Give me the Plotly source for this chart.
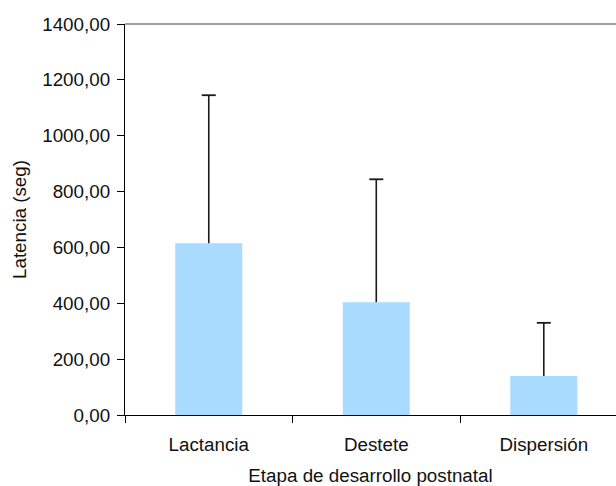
import plotly.graph_objects as go

# Latency per postnatal development stage (mean + upper SD)
etapas = ["Lactancia", "Destete", "Dispersión"]
latencia_media = [615, 404, 140]
latencia_sd = [530, 440, 190]

FONT = "Liberation Sans, Arial, sans-serif"
FS = 18.8
ERR_COLOR = "#1a1a1a"

fig = go.Figure()
fig.add_trace(go.Bar(
    x=etapas,
    y=latencia_media,
    width=0.4,
    marker=dict(color="#a9daff", line=dict(width=0)),
    hoverinfo="x+y",
))

# Upper error bar: vertical stem (no caps) ending in a single cap marker
tops = [m + s for m, s in zip(latencia_media, latencia_sd)]
fig.add_trace(go.Scatter(
    x=etapas,
    y=tops,
    mode="markers",
    marker=dict(symbol="line-ew", size=10,
                line=dict(color=ERR_COLOR, width=1.8)),
    error_y=dict(
        type="data",
        symmetric=False,
        array=[0, 0, 0],
        arrayminus=latencia_sd,
        color=ERR_COLOR,
        thickness=1.6,
        width=0,
    ),
    hoverinfo="skip",
))

fig.update_layout(
    width=616,
    height=486,
    margin=dict(l=125, r=0, t=24, b=71),
    paper_bgcolor="white",
    plot_bgcolor="white",
    separators=",.",
    showlegend=False,
    font=dict(family=FONT, size=FS, color="#111111"),
)

fig.update_xaxes(
    type="category",
    range=[-0.5, 2.431],
    tickson="boundaries",
    ticks="outside",
    ticklen=7,
    tickwidth=1,
    tickcolor="#000000",
    ticklabelstandoff=12,
    showline=True,
    linecolor="#000000",
    linewidth=1.2,
    showgrid=False,
    title=dict(text="Etapa de desarrollo postnatal", standoff=17,
               font=dict(family=FONT, size=FS)),
)

fig.update_yaxes(
    range=[0, 1400],
    dtick=200,
    tickformat=".2f",
    ticks="outside",
    ticklen=7,
    tickwidth=1,
    tickcolor="#000000",
    ticklabelstandoff=3,
    showline=True,
    linecolor="#000000",
    linewidth=1.2,
    showgrid=False,
    zeroline=False,
    title=dict(text="Latencia (seg)", standoff=10,
               font=dict(family=FONT, size=FS)),
)

# Gray top border of the plot area
fig.add_shape(type="line", xref="paper", yref="paper",
              x0=0, x1=1, y0=1, y1=1,
              line=dict(color="#808080", width=1.5))

fig.write_html("out.html")
